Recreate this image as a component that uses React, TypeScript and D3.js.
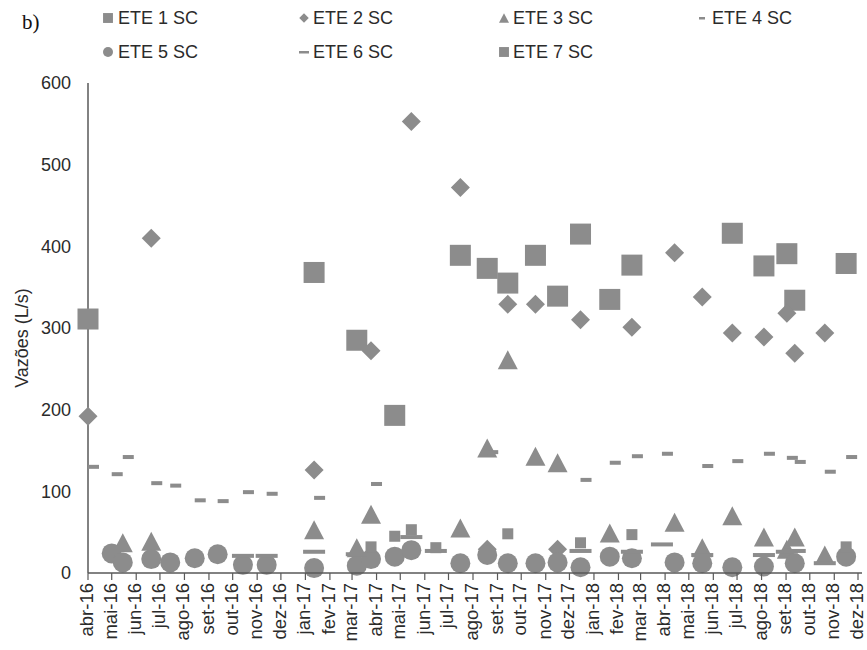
import React from "react";
import * as d3 from "d3";

const monthLabels = [
  "abr-16","mai-16","jun-16","jul-16","ago-16","set-16","out-16","nov-16","dez-16",
  "jan-17","fev-17","mar-17","abr-17","mai-17","jun-17","jul-17","ago-17","set-17","out-17","nov-17","dez-17",
  "jan-18","fev-18","mar-18","abr-18","mai-18","jun-18","jul-18","ago-18","set-18","out-18","nov-18","dez-18",
];
const yTicks = [0, 100, 200, 300, 400, 500, 600];

const ete1Dates = ["2016-04-01","2017-01-12","2017-03-07","2017-04-24","2017-07-16","2017-08-19","2017-09-14","2017-10-19","2017-11-16","2017-12-15","2018-01-21","2018-02-18","2018-06-25","2018-08-04","2018-09-02","2018-09-12","2018-11-16"];
const ete1Values = [311,368,285,193,389,373,355,389,339,415,335,377,416,376,391,334,379];

const ete2Dates = ["2016-04-01","2016-06-20","2017-01-12","2017-03-25","2017-05-15","2017-07-16","2017-08-19","2017-09-14","2017-10-19","2017-11-16","2017-12-15","2018-02-18","2018-04-13","2018-05-18","2018-06-25","2018-08-04","2018-09-02","2018-09-12","2018-10-20"];
const ete2Values = [192,410,126,272,553,472,29,329,329,29,310,301,392,338,294,289,318,269,294];

const ete3Dates = ["2016-05-15","2016-06-20","2017-01-12","2017-03-07","2017-03-25","2017-07-16","2017-08-19","2017-09-14","2017-10-19","2017-11-16","2018-01-21","2018-04-13","2018-05-18","2018-06-25","2018-08-04","2018-09-02","2018-09-12","2018-10-20"];
const ete3Values = [37,39,53,31,72,55,153,261,143,135,49,62,31,70,44,29,44,22];

const ete4Dates = ["2016-04-01","2016-05-01","2016-05-15","2016-06-20","2016-07-14","2016-08-14","2016-09-12","2016-10-14","2016-11-13","2017-01-12","2017-03-25","2017-08-19","2017-12-15","2018-01-21","2018-02-18","2018-03-28","2018-05-18","2018-06-25","2018-08-04","2018-09-02","2018-09-12","2018-10-20","2018-11-16"];
const ete4Values = [130,121,142,110,107,89,88,99,97,92,109,148,114,135,143,146,131,137,146,141,136,124,142];

const ete5Dates = ["2016-05-01","2016-05-15","2016-06-20","2016-07-14","2016-08-14","2016-09-12","2016-10-14","2016-11-13","2017-01-12","2017-03-07","2017-03-25","2017-04-24","2017-05-15","2017-07-16","2017-08-19","2017-09-14","2017-10-19","2017-11-16","2017-12-15","2018-01-21","2018-02-18","2018-04-13","2018-05-18","2018-06-25","2018-08-04","2018-09-12","2018-11-16"];
const ete5Values = [24,13,17,13,18,23,10,10,6,9,17,20,28,12,22,12,12,13,7,20,18,13,12,7,8,12,20];

const ete6Dates = ["2016-10-14","2016-11-13","2017-01-12","2017-03-07","2017-05-15","2017-06-15","2017-12-15","2018-02-18","2018-03-28","2018-05-18","2018-08-04","2018-09-02","2018-09-12","2018-10-20"];
const ete6Values = [21,21,26,23,44,27,27,26,35,22,22,26,27,12];

const ete7Dates = ["2017-03-25","2017-04-24","2017-05-15","2017-06-15","2017-09-14","2017-12-15","2018-02-18","2018-11-16"];
const ete7Values = [32,45,53,31,48,37,47,32];

const seriesNames = ["ETE 1 SC","ETE 2 SC","ETE 3 SC","ETE 4 SC","ETE 5 SC","ETE 6 SC","ETE 7 SC"];

const FILL = "#8c8c8c";
const AXIS = "#595959";
const TEXT = "#2b2b2b";
const FONT = "Liberation Sans, Arial, sans-serif";

type Shape = "bigSquare" | "diamond" | "triangle" | "shortDash" | "circle" | "longDash" | "smallSquare";

function Marker({ shape, x, y, s = 1 }: { shape: Shape; x: number; y: number; s?: number }) {
  switch (shape) {
    case "bigSquare":
      return <rect x={x - 10.5 * s} y={y - 10.5 * s} width={21 * s} height={21 * s} fill={FILL} />;
    case "smallSquare":
      return <rect x={x - 5.5 * s} y={y - 5.5 * s} width={11 * s} height={11 * s} fill={FILL} />;
    case "diamond":
      return <path d={`M${x},${y - 9.5 * s}L${x + 9.5 * s},${y}L${x},${y + 9.5 * s}L${x - 9.5 * s},${y}Z`} fill={FILL} />;
    case "triangle":
      return <path d={`M${x},${y - 9.5 * s}L${x + 10 * s},${y + 9.5 * s}L${x - 10 * s},${y + 9.5 * s}Z`} fill={FILL} />;
    case "circle":
      return <circle cx={x} cy={y} r={10 * s} fill={FILL} />;
    case "shortDash":
      return <rect x={x} y={y - 2} width={11 * s} height={4} fill={FILL} />;
    case "longDash":
      return <rect x={x - 11 * s} y={y - 2} width={22 * s} height={4} fill={FILL} />;
  }
}

export default function App() {
  const parse = d3.timeParse("%Y-%m-%d");
  const x = d3.scaleTime().domain([parse("2016-04-01")!, parse("2018-12-01")!]).range([88, 858]);
  const y = d3.scaleLinear().domain([0, 600]).range([573, 83]);
  const months = d3.timeMonth.range(parse("2016-04-01")!, parse("2018-12-02")!);

  const series: { dates: string[]; values: number[]; shape: Shape }[] = [
    { dates: ete1Dates, values: ete1Values, shape: "bigSquare" },
    { dates: ete2Dates, values: ete2Values, shape: "diamond" },
    { dates: ete3Dates, values: ete3Values, shape: "triangle" },
    { dates: ete4Dates, values: ete4Values, shape: "shortDash" },
    { dates: ete5Dates, values: ete5Values, shape: "circle" },
    { dates: ete6Dates, values: ete6Values, shape: "longDash" },
    { dates: ete7Dates, values: ete7Values, shape: "smallSquare" },
  ];

  const legendPos = [
    { mx: 108, tx: 118, ly: 18 },
    { mx: 304, tx: 313, ly: 18 },
    { mx: 504, tx: 513, ly: 18 },
    { mx: 702, tx: 712, ly: 18 },
    { mx: 108, tx: 118, ly: 52 },
    { mx: 304, tx: 313, ly: 52 },
    { mx: 504, tx: 513, ly: 52 },
  ];
  const legendShapes: Shape[] = ["smallSquare", "diamond", "triangle", "shortDash", "circle", "longDash", "smallSquare"];

  return (
    <svg width={867} height={650} style={{ position: "absolute", left: 0, top: 0, display: "block", background: "#fff" }} fontFamily={FONT}>
      <text x={22} y={29} fontFamily="Liberation Serif, Times New Roman, serif" fontSize={21} fill="#111">b)</text>

      {seriesNames.map((n, i) => {
        const p = legendPos[i];
        const sh = legendShapes[i];
        return (
          <g key={n}>
            {sh === "shortDash" ? (
              <rect x={p.mx - 3} y={p.ly - 1} width={6} height={2.5} fill={FILL} />
            ) : sh === "longDash" ? (
              <rect x={p.mx - 5} y={p.ly - 1} width={10} height={2.5} fill={FILL} />
            ) : (
              <Marker shape={sh} x={p.mx} y={p.ly} s={sh === "smallSquare" ? 0.9 : 0.5} />
            )}
            <text x={p.tx} y={p.ly} dy="0.35em" fontSize={18} fill={TEXT}>{n}</text>
          </g>
        );
      })}

      {/* y axis */}
      <line x1={88} x2={88} y1={y(600)} y2={y(0)} stroke={AXIS} strokeWidth={1.5} />
      {yTicks.map((t) => (
        <text key={t} x={71} y={y(t)} dy="0.35em" textAnchor="end" fontSize={18} fill={TEXT}>{t}</text>
      ))}
      <text transform={`translate(28,${(y(600) + y(0)) / 2 + 10}) rotate(-90)`} textAnchor="middle" fontSize={18} fill={TEXT}>Vazões (L/s)</text>

      {/* markers */}
      {series.map((s, si) => (
        <g key={si}>
          {s.dates.map((d, i) => (
            <Marker key={i} shape={s.shape} x={x(parse(d)!)} y={y(s.values[i])} />
          ))}
        </g>
      ))}

      {/* x axis */}
      <line x1={88} x2={862} y1={y(0)} y2={y(0)} stroke={AXIS} strokeWidth={1.5} />
      {months.map((m, i) => (
        <g key={i}>
          <line x1={x(m)} x2={x(m)} y1={y(0)} y2={y(0) + 7} stroke={AXIS} strokeWidth={1.2} />
          <text transform={`translate(${x(m)},${y(0) + 10}) rotate(-90)`} textAnchor="end" dy="0.27em" fontSize={18.5} fill={TEXT}>{monthLabels[i]}</text>
        </g>
      ))}
    </svg>
  );
}
